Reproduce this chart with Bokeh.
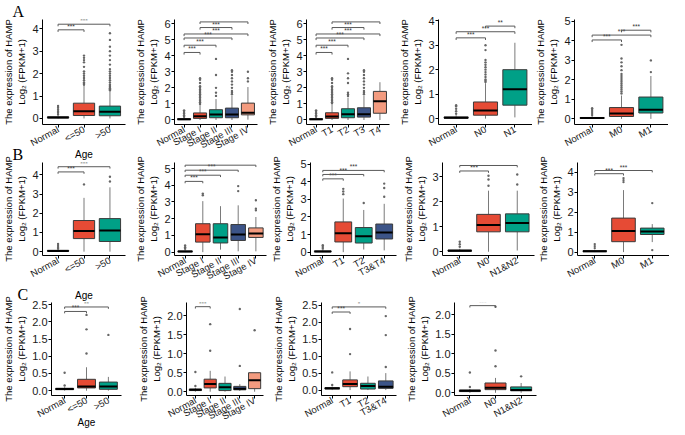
from bokeh.plotting import figure
from bokeh.layouts import row, column
from bokeh.models import FixedTicker, Range1d, PrintfTickFormatter, Title
from bokeh.core.properties import value
from bokeh.embed import file_html
from bokeh.resources import INLINE

# ---------------- data ----------------
# stats per category: [lower whisker, q1, median, q3, upper whisker]
A1_LABELS = ["Normal", "<=50", ">50"]
A1_STATS = [[0.0, 0.02, 0.04, 0.07, 0.14], [0.0, 0.13, 0.32, 0.68, 1.45], [0.0, 0.12, 0.30, 0.55, 1.20]]
A1_OUT = [[0.18, 0.25, 0.32, 0.40, 0.48, 0.56],
          [1.5, 1.55, 1.6, 1.7, 1.8, 1.9, 2.0, 2.1, 2.3, 2.5, 2.6, 2.7, 2.8],
          [1.25, 1.3, 1.35, 1.4, 1.45, 1.5, 1.6, 1.7, 1.8, 1.9, 2.0, 2.1, 2.2, 2.4, 2.6, 2.8, 3.0, 3.2, 3.5, 3.8]]
A1_SIG = [[1, 2, 3.95, "***"], [1, 3, 4.2, "***"]]

A2_LABELS = ["Normal", "Stage I", "Stage II", "Stage III", "Stage IV"]
A2_STATS = [[0.0, 0.02, 0.04, 0.08, 0.15], [0.0, 0.10, 0.24, 0.44, 0.95], [0.0, 0.14, 0.34, 0.64, 1.3],
            [0.0, 0.14, 0.34, 0.74, 1.5], [0.02, 0.32, 0.45, 1.05, 2.05]]
A2_OUT = [[0.2, 0.3, 0.4, 0.5, 0.6],
          [1.0, 1.1, 1.2, 1.3, 1.4, 1.5, 1.6, 1.7, 1.8, 1.9, 2.0, 2.1, 2.3, 2.5, 2.6],
          [1.5, 1.7, 2.0, 2.8, 3.8],
          [1.6, 1.7, 1.8, 2.0, 2.2, 2.4, 2.6, 2.8, 3.0, 3.1],
          [2.4, 2.6, 3.0]]
A2_SIG = [[1, 2, 4.2, "***"], [1, 3, 4.65, "***"], [1, 4, 5.1, "***"], [1, 5, 5.35, "***"],
          [2, 4, 5.75, "***"], [2, 5, 6.1, "***"]]

A3_LABELS = ["Normal", "T1", "T2", "T3", "T4"]
A3_STATS = [[0.0, 0.02, 0.04, 0.08, 0.15], [0.0, 0.10, 0.22, 0.45, 1.0], [0.0, 0.14, 0.36, 0.70, 1.4],
            [0.0, 0.18, 0.36, 0.76, 1.5], [0.0, 0.42, 1.17, 1.78, 2.35]]
A3_OUT = [[0.2, 0.3, 0.4, 0.5, 0.6],
          [1.05, 1.1, 1.2, 1.3, 1.4, 1.5, 1.6, 1.7, 1.8, 1.9, 2.0, 2.1, 2.3, 2.5, 2.6],
          [1.5, 1.6, 1.7, 2.3, 2.6, 2.9, 3.8],
          [1.6, 1.7, 1.8, 2.0, 2.2, 2.4, 2.6, 2.8, 3.0, 3.1],
          []]
A3_SIG = [[1, 2, 4.2, "***"], [1, 3, 4.65, "***"], [1, 4, 5.1, "***"], [1, 5, 5.35, "***"],
          [2, 4, 5.75, "***"], [2, 5, 6.1, "*"]]

A4_LABELS = ["Normal", "N0", "N1"]
A4_STATS = [[0.0, 0.02, 0.04, 0.07, 0.14], [0.0, 0.14, 0.33, 0.68, 1.45], [0.05, 0.55, 1.2, 2.0, 3.1]]
A4_OUT = [[0.2, 0.3, 0.4, 0.5, 0.55],
          [1.5, 1.55, 1.6, 1.7, 1.8, 1.9, 2.0, 2.1, 2.2, 2.3, 2.4, 2.8, 3.0],
          []]
A4_SIG = [[1, 2, 3.3, "***"], [1, 3, 3.55, "***"], [2, 3, 3.78, "**"]]

A5_LABELS = ["Normal", "M0", "M1"]
A5_STATS = [[0.0, 0.02, 0.04, 0.07, 0.14], [0.0, 0.12, 0.27, 0.58, 1.2], [0.0, 0.30, 0.47, 1.12, 2.2]]
A5_OUT = [[0.2, 0.3, 0.4, 0.5, 0.55],
          [1.3, 1.4, 1.5, 1.6, 1.7, 1.8, 1.9, 2.0, 2.1, 2.2, 2.3, 2.5, 2.7, 2.9, 3.1, 3.8],
          [2.4, 3.0]]
A5_SIG = [[1, 2, 4.05, "***"], [1, 3, 4.3, "***"], [2, 3, 4.55, "***"]]

B1_LABELS = ["Normal", "<=50", ">50"]
B1_STATS = [[0.0, 0.02, 0.04, 0.07, 0.12], [0.0, 0.68, 1.07, 1.62, 2.8], [0.0, 0.53, 1.10, 1.72, 3.35]]
B1_OUT = [[0.15, 0.2, 0.3, 0.4], [3.5], [3.65, 3.9]]
B1_SIG = [[1, 2, 4.15, "***"], [1, 3, 4.42, "***"]]

B2_LABELS = ["Normal", "Stage I", "Stage II", "Stage III", "Stage IV"]
B2_STATS = [[0.0, 0.02, 0.04, 0.07, 0.12], [0.0, 0.60, 1.07, 1.70, 3.05], [0.15, 0.55, 0.88, 1.70, 2.75],
            [0.05, 0.70, 1.05, 1.65, 2.8], [0.05, 0.88, 1.12, 1.45, 2.1]]
B2_OUT = [[0.2, 0.3, 0.4], [3.4, 3.5], [], [3.65, 3.95], [2.5, 2.6, 3.1]]
B2_SIG = [[1, 2, 4.23, "***"], [1, 3, 4.6, "***"], [1, 4, 4.9, "***"], [1, 5, 5.2, "***"]]

B3_LABELS = ["Normal", "T1", "T2", "T3&T4"]
B3_STATS = [[0.0, 0.02, 0.04, 0.07, 0.12], [0.0, 0.58, 1.08, 1.72, 3.05], [0.15, 0.52, 0.90, 1.40, 2.4],
            [0.1, 0.75, 1.12, 1.60, 2.75]]
B3_OUT = [[0.2, 0.3, 0.4], [3.3, 3.45, 3.6], [2.8], [3.15, 3.65, 3.9]]
B3_SIG = [[1, 2, 4.17, "***"], [1, 3, 4.42, "***"], [1, 4, 4.65, "***"]]

B4_LABELS = ["Normal", "N0", "N1&N2"]
B4_STATS = [[0.0, 0.02, 0.04, 0.07, 0.12], [0.0, 0.80, 1.07, 1.50, 2.45], [0.05, 0.80, 1.15, 1.52, 2.45]]
B4_OUT = [[0.2, 0.3, 0.4], [2.65, 2.9, 3.05], [2.7, 3.1]]
B4_SIG = [[1, 2, 3.24, "***"], [1, 3, 3.46, "***"]]

B5_LABELS = ["Normal", "M0", "M1"]
B5_STATS = [[0.0, 0.02, 0.04, 0.07, 0.12], [0.0, 0.52, 1.05, 1.70, 3.1], [0.5, 0.88, 1.03, 1.20, 1.4]]
B5_OUT = [[0.2, 0.3, 0.4], [3.5, 3.6, 3.7], [0.1, 2.45]]
B5_SIG = [[1, 2, 3.92, "***"], [1, 3, 4.08, "***"]]

C1_LABELS = ["Normal", "<=50", ">50"]
C1_STATS = [[0.0, 0.03, 0.05, 0.07, 0.10], [0.0, 0.08, 0.12, 0.33, 0.68], [0.0, 0.04, 0.12, 0.25, 0.40]]
C1_OUT = [[0.15, 0.52], [1.08, 1.78, 2.2], [1.62]]
C1_SIG = [[1, 2, 2.3, "***"], [1, 3, 2.43, "**"]]

C2_LABELS = ["Normal", "Stage I", "Stage II", "Stage III", "Stage IV"]
C2_STATS = [[0.0, 0.03, 0.05, 0.07, 0.10], [0.0, 0.10, 0.20, 0.33, 0.55], [0.0, 0.03, 0.12, 0.22, 0.40],
            [0.02, 0.05, 0.08, 0.14, 0.20], [0.0, 0.08, 0.30, 0.50, 0.50]]
C2_OUT = [[0.15, 0.52], [1.08, 1.78], [], [0.68, 2.18], [1.62]]
C2_SIG = [[1, 2, 2.24, "***"]]

C3_LABELS = ["Normal", "T1", "T2", "T3&T4"]
C3_STATS = [[0.0, 0.03, 0.05, 0.07, 0.10], [0.0, 0.10, 0.18, 0.30, 0.55], [0.0, 0.03, 0.12, 0.20, 0.40],
            [0.0, 0.05, 0.10, 0.27, 0.50]]
C3_OUT = [[0.15, 0.52], [1.06, 1.8], [], [0.68, 1.62, 2.18]]
C3_SIG = [[1, 2, 2.3, "***"], [1, 4, 2.45, "*"]]

C4_LABELS = ["Normal", "N0", "N1&N2"]
C4_STATS = [[0.0, 0.03, 0.05, 0.07, 0.10], [0.0, 0.08, 0.13, 0.25, 0.38], [0.0, 0.05, 0.07, 0.15, 0.25]]
C4_OUT = [[0.15, 0.52], [0.68, 1.08, 2.2], [0.42]]
C4_SIG = [[1, 2, 2.23, "***"]]

# ---------------- styling / layout ----------------
SX = 0.975
ROW_H = [162, 161, 150]       # figure heights per row
ROW_TOP = [16, 20, 22]        # top border per row
ROW_MARGIN = [-20, -23, -13]  # rows overlap into the empty part of the label band
FONT = "Liberation Sans"
PALETTE = ["#000000", "#E64B35", "#00A087", "#3C5488", "#F39B7F"]
YLABEL = "The expression of HAMP\nLog\u2082 (FPKM+1)"


def make_panel(labels, stats, outs, sigs, fig_x, frame_x, row_i, yr, yticks,
               fmt=None, xlabel=None, xlabel_standoff=0, letter=None):
    W = round((fig_x[1] - fig_x[0]) * SX)
    H = ROW_H[row_i]
    bl = round((frame_x[0] - fig_x[0]) * SX)
    br = round((fig_x[1] - frame_x[1]) * SX)
    n = len(labels)
    p = figure(width=W, height=H, output_backend="svg", toolbar_location=None,
               x_range=Range1d(0.4, n + 0.6), y_range=Range1d(*yr),
               min_border_left=bl, min_border_right=br, min_border_top=ROW_TOP[row_i],
               min_border_bottom=10)
    p.outline_line_color = None
    p.grid.visible = False
    p.background_fill_color = None
    p.border_fill_color = None

    xs = list(range(1, n + 1))
    cols = PALETTE[:n]
    lo = [s[0] for s in stats]
    q1 = [s[1] for s in stats]
    med = [s[2] for s in stats]
    q3 = [s[3] for s in stats]
    hi = [s[4] for s in stats]
    bw = 0.82
    p.segment(x0=xs, y0=q3, x1=xs, y1=hi, line_color="#7a7a7a", line_width=1)
    p.segment(x0=xs, y0=lo, x1=xs, y1=q1, line_color="#7a7a7a", line_width=1)
    p.vbar(x=xs, width=bw, bottom=q1, top=q3, fill_color=cols, line_color="#3a3a3a", line_width=1)
    p.segment(x0=[x - bw / 2 for x in xs], y0=med, x1=[x + bw / 2 for x in xs], y1=med,
              line_color="black", line_width=2)
    ox, oy = [], []
    for x, vals in zip(xs, outs):
        for v in vals:
            ox.append(x)
            oy.append(v)
    if ox:
        p.scatter(x=ox, y=oy, size=2.4, color="#666666", line_width=0)
    d = 0.02 * (yr[1] - yr[0])
    for a, b, yv, txt in sigs:
        p.segment(x0=[a, a, b], y0=[yv, yv, yv], x1=[b, a, b], y1=[yv, yv - d, yv - d],
                  line_color="#5a5a5a", line_width=1)
        p.text(x=[(a + b) / 2], y=[yv], text=[txt], text_align="center", text_baseline="bottom",
               text_font_size="6.5px", text_color="#333333", text_font=value(FONT))

    p.xaxis.ticker = FixedTicker(ticks=xs)
    p.xaxis.major_label_overrides = {x: lab for x, lab in zip(xs, labels)}
    p.xaxis.major_label_orientation = 0.5
    p.yaxis.ticker = FixedTicker(ticks=yticks)
    if fmt:
        p.yaxis.formatter = PrintfTickFormatter(format=fmt)
    for ax in (p.xaxis, p.yaxis):
        ax.axis_line_color = "black"
        ax.major_tick_line_color = "black"
        ax.major_tick_out = 3
        ax.major_tick_in = 0
        ax.minor_tick_line_color = None
        ax.major_label_text_font = FONT
        ax.major_label_text_color = "#1a1a1a"
        ax.major_label_standoff = 1
        ax.axis_label_text_font = FONT
        ax.axis_label_text_font_style = "normal"
        ax.axis_label_text_color = "black"
    p.xaxis.major_label_text_font_size = "9.5px"
    p.yaxis.major_label_text_font_size = "11px"
    p.yaxis.axis_label = YLABEL
    p.yaxis.axis_label_text_font_size = "9.5px"
    p.yaxis.axis_label_standoff = 2
    if xlabel:
        p.xaxis.axis_label = xlabel
        p.xaxis.axis_label_text_font_size = "10px"
        p.xaxis.axis_label_standoff = xlabel_standoff
    if letter:
        p.add_layout(Title(text=letter, align="left", offset=-(bl - 2), text_font="Liberation Serif",
                           text_font_size="16px", text_font_style="normal", text_color="black",
                           standoff=0), "above")
    return p


A = [
    make_panel(A1_LABELS, A1_STATS, A1_OUT, A1_SIG, (0, 135), (33, 128), 0,
               (-0.27, 4.41), [0, 1, 2, 3, 4], xlabel="Age", xlabel_standoff=-7, letter="A"),
    make_panel(A2_LABELS, A2_STATS, A2_OUT, A2_SIG, (135, 270), (168, 263), 0,
               (-0.28, 6.25), [0, 1, 2, 3, 4, 5, 6]),
    make_panel(A3_LABELS, A3_STATS, A3_OUT, A3_SIG, (270, 405), (302, 398), 0,
               (-0.28, 6.25), [0, 1, 2, 3, 4, 5, 6]),
    make_panel(A4_LABELS, A4_STATS, A4_OUT, A4_SIG, (405, 545), (438, 545), 0,
               (-0.24, 4.05), [0, 1, 2, 3, 4]),
    make_panel(A5_LABELS, A5_STATS, A5_OUT, A5_SIG, (545, 685), (586, 685), 0,
               (-0.29, 5.1), [0, 1, 2, 3, 4, 5]),
]
B = [
    make_panel(B1_LABELS, B1_STATS, B1_OUT, B1_SIG, (0, 135), (33, 128), 1,
               (-0.2, 4.64), [0, 1, 2, 3, 4], xlabel="Age", xlabel_standoff=3, letter="B"),
    make_panel(B2_LABELS, B2_STATS, B2_OUT, B2_SIG, (135, 275), (168, 273), 1,
               (-0.2, 5.36), [0, 1, 2, 3, 4, 5]),
    make_panel(B3_LABELS, B3_STATS, B3_OUT, B3_SIG, (275, 410), (309, 406), 1,
               (-0.19, 5.1), [0, 1, 2, 3, 4, 5]),
    make_panel(B4_LABELS, B4_STATS, B4_OUT, B4_SIG, (410, 548), (446, 547), 1,
               (-0.15, 3.58), [0, 1, 2, 3]),
    make_panel(B5_LABELS, B5_STATS, B5_OUT, B5_SIG, (548, 685), (587, 685), 1,
               (-0.17, 4.48), [0, 1, 2, 3, 4]),
]
C = [
    make_panel(C1_LABELS, C1_STATS, C1_OUT, C1_SIG, (0, 138), (37, 124), 2,
               (-0.14, 2.56), [0, 0.5, 1, 1.5, 2, 2.5], fmt="%.1f", xlabel="Age",
               xlabel_standoff=-10, letter="C"),
    make_panel(C2_LABELS, C2_STATS, C2_OUT, C2_SIG, (138, 276), (173, 269), 2,
               (-0.1, 2.35), [0, 0.5, 1, 1.5, 2], fmt="%.1f"),
    make_panel(C3_LABELS, C3_STATS, C3_OUT, C3_SIG, (276, 412), (316, 405), 2,
               (-0.16, 2.58), [0, 0.5, 1, 1.5, 2, 2.5], fmt="%.1f"),
    make_panel(C4_LABELS, C4_STATS, C4_OUT, C4_SIG, (412, 552), (455, 549), 2,
               (-0.07, 2.31), [0, 0.5, 1, 1.5, 2], fmt="%.1f"),
]

rows = []
for figs, m in zip((A, B, C), ROW_MARGIN):
    r = row(*figs)
    r.margin = (0, 0, m, 0)
    rows.append(r)
layout = column(*rows)
open("out.html", "w").write(file_html(layout, INLINE))
